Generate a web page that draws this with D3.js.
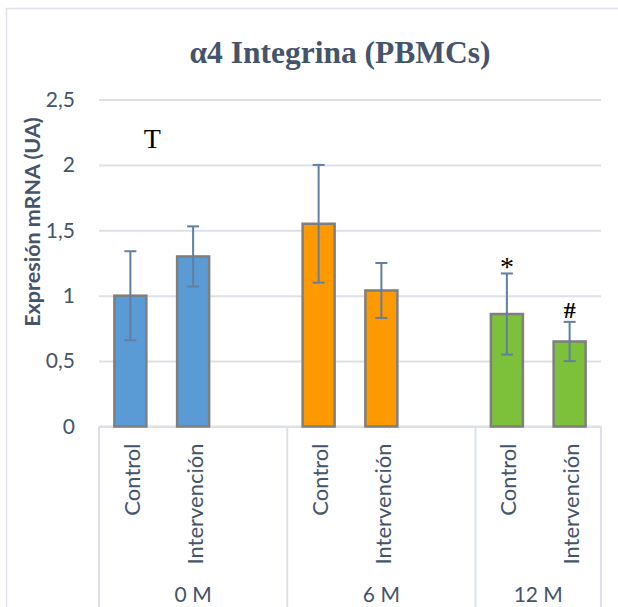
<!DOCTYPE html>
<html>
<head>
<meta charset="utf-8">
<script src="https://cdn.jsdelivr.net/npm/d3@7"></script>
<style>
  body { margin: 0; background: #fff; }
  svg { display: block; }
</style>
</head>
<body>
<svg id="chart" width="618" height="607"></svg>
<script>
// values
var groupLabels = ["0 M", "0 M", "0 M", "6 M", "6 M", "6 M", "12 M", "12 M"];
var barLabels = ["Control", "Intervención", "", "Control", "Intervención", "", "Control", "Intervención"];
var values = [1.00, 1.30, null, 1.55, 1.04, null, 0.86, 0.65];
var errors = [0.34, 0.23, null, 0.45, 0.21, null, 0.31, 0.15];
var yTicks = [0, 0.5, 1, 1.5, 2, 2.5];
var marks = [
  { slot: 0, value: 2.13, text: "T", dx: 22 },
  { slot: 6, value: 1.15, text: "*", dx: 0 },
  { slot: 7, value: 0.83, text: "#", dx: 0 }
];

function drawChart() {
  var svg = d3.select("#chart"),
    margin = { top: 99.5, right: 17, bottom: 181, left: 99 },
    width = +svg.attr("width"),
    height = +svg.attr("height");

  var slots = d3.range(values.length);
  var groupColor = { "0 M": "#5b9bd5", "6 M": "#ff9900", "12 M": "#7dc03a" };
  var textColor = "#44546a";
  var gridColor = "#dde2e8";
  var sans = "Lato, 'Open Sans', sans-serif";
  var serif = "'Liberation Serif', 'DejaVu Serif', serif";

  var x = d3.scaleBand()
    .domain(slots)
    .range([margin.left, width - margin.right])
    .padding(0);

  var y = d3.scaleLinear()
    .domain([0, 2.5])
    .range([height - margin.bottom + 0.5, margin.top]);

  var fmt = function (d) { return String(d).replace(".", ","); };

  // outer chart border
  svg.append("rect")
    .attr("x", 6.5).attr("y", 8.5)
    .attr("width", 700).attr("height", 700)
    .attr("fill", "#fff")
    .attr("stroke", "#dde2e8")
    .attr("stroke-width", 1.5);

  svg.append("text")
    .attr("x", 340)
    .attr("y", 63)
    .attr("text-anchor", "middle")
    .attr("font-family", serif)
    .attr("font-weight", "bold")
    .attr("font-size", 31.5)
    .attr("fill", textColor)
    .text("α4 Integrina (PBMCs)");

  // gridlines + y axis labels
  var yAxis = d3.axisLeft(y)
    .tickValues(yTicks)
    .tickFormat(fmt)
    .tickSize(-(x.range()[1] - x.range()[0]))
    .tickPadding(24);

  var gy = svg.append("g")
    .attr("transform", "translate(" + margin.left + ",0)")
    .call(yAxis);
  gy.select(".domain").remove();
  gy.selectAll(".tick line")
    .attr("stroke", gridColor)
    .attr("stroke-width", 2);
  gy.selectAll(".tick text")
    .attr("font-family", sans)
    .attr("font-size", 21)
    .attr("fill", textColor);

  svg.append("text")
    .attr("transform", "translate(32," + 222 + ") rotate(-90)")
    .attr("text-anchor", "middle")
    .attr("dominant-baseline", "central")
    .attr("font-family", sans)
    .attr("font-weight", "bold")
    .attr("font-size", 21.5)
    .attr("fill", textColor)
    .text("Expresión mRNA (UA)");

  // category axis: separators between the groups
  var groups = [];
  slots.forEach(function (i) {
    var g = groups.length ? groups[groups.length - 1] : null;
    if (!g || g.label !== groupLabels[i]) groups.push({ label: groupLabels[i], first: i, last: i });
    else g.last = i;
  });

  var axisY = y(0);
  svg.append("line")
    .attr("x1", x.range()[0]).attr("x2", x.range()[1])
    .attr("y1", axisY).attr("y2", axisY)
    .attr("stroke", gridColor)
    .attr("stroke-width", 2);

  var edges = [x(groups[0].first)].concat(groups.map(function (g) {
    return x(g.last) + x.bandwidth();
  }));
  svg.selectAll(".sep")
    .data(edges)
    .enter().append("line")
    .attr("class", "sep")
    .attr("x1", function (d) { return d; })
    .attr("x2", function (d) { return d; })
    .attr("y1", axisY)
    .attr("y2", height + 5)
    .attr("stroke", gridColor)
    .attr("stroke-width", 2);

  svg.selectAll(".cat")
    .data(slots.filter(function (i) { return barLabels[i]; }))
    .enter().append("text")
    .attr("class", "cat")
    .attr("transform", function (i) {
      return "translate(" + (x(i) + x.bandwidth() / 2 + 1) + "," + (axisY + 17) + ") rotate(-90)";
    })
    .attr("text-anchor", "end")
    .attr("dominant-baseline", "central")
    .attr("font-family", sans)
    .attr("font-size", 22)
    .attr("fill", textColor)
    .text(function (i) { return barLabels[i]; });

  svg.selectAll(".grp")
    .data(groups)
    .enter().append("text")
    .attr("class", "grp")
    .attr("x", function (g) { return (x(g.first) + x(g.last) + x.bandwidth()) / 2; })
    .attr("y", 602)
    .attr("text-anchor", "middle")
    .attr("font-family", sans)
    .attr("font-size", 21)
    .attr("fill", textColor)
    .text(function (g) { return g.label; });

  // bars
  var barW = x.bandwidth() * 0.51;
  var barSlots = slots.filter(function (i) { return values[i] != null; });

  svg.selectAll(".bar")
    .data(barSlots)
    .enter().append("rect")
    .attr("class", "bar")
    .attr("x", function (i) { return x(i) + (x.bandwidth() - barW) / 2; })
    .attr("y", function (i) { return y(values[i]); })
    .attr("width", barW)
    .attr("height", function (i) { return y(0) - y(values[i]); })
    .attr("fill", function (i) { return groupColor[groupLabels[i]]; })
    .attr("stroke", "#7f7f7f")
    .attr("stroke-width", 2.5);

  // error bars
  var err = svg.selectAll(".err")
    .data(barSlots)
    .enter().append("g")
    .attr("class", "err")
    .attr("stroke", "#627fa3")
    .attr("stroke-width", 2);
  var cx = function (i) { return x(i) + x.bandwidth() / 2; };
  err.append("line")
    .attr("x1", cx).attr("x2", cx)
    .attr("y1", function (i) { return y(values[i] + errors[i]); })
    .attr("y2", function (i) { return y(values[i] - errors[i]); });
  err.append("line")
    .attr("x1", function (i) { return cx(i) - 6; })
    .attr("x2", function (i) { return cx(i) + 6; })
    .attr("y1", function (i) { return y(values[i] + errors[i]); })
    .attr("y2", function (i) { return y(values[i] + errors[i]); });
  err.append("line")
    .attr("x1", function (i) { return cx(i) - 6; })
    .attr("x2", function (i) { return cx(i) + 6; })
    .attr("y1", function (i) { return y(values[i] - errors[i]); })
    .attr("y2", function (i) { return y(values[i] - errors[i]); });

  // significance marks
  svg.selectAll(".mark")
    .data(marks)
    .enter().append("text")
    .attr("class", "mark")
    .attr("x", function (m) { return cx(m.slot) + m.dx; })
    .attr("y", function (m) { return y(m.value); })
    .attr("text-anchor", "middle")
    .attr("font-family", serif)
    .attr("font-weight", function (m) { return m.text === "#" ? "bold" : "normal"; })
    .attr("font-size", function (m) { return m.text === "#" ? 24 : 28; })
    .attr("fill", "#000")
    .text(function (m) { return m.text; });
}

drawChart();
</script>
</body>
</html>
